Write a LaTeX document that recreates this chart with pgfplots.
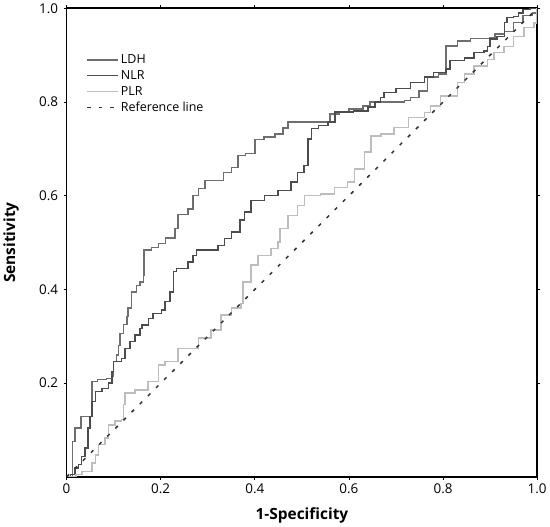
\documentclass[border=0pt]{standalone}
\usepackage{fontspec}
\setmainfont{Open Sans}
\usepackage{pgfplots}
\pgfplotsset{compat=1.18}
\definecolor{ldhc}{HTML}{6E6E6E}
\definecolor{nlrc}{HTML}{4C4C4C}
\definecolor{plrc}{HTML}{BDBDBD}
\definecolor{refc}{HTML}{333333}
\begin{document}
\begin{tikzpicture}
\begin{axis}[
  scale only axis,
  width=472pt, height=470pt,
  xmin=0, xmax=1, ymin=0, ymax=1,
  xtick={0,0.2,0.4,0.6,0.8,1.0},
  ytick={0.2,0.4,0.6,0.8,1.0},
  xticklabels={0,0.2,0.4,0.6,0.8,1.0},
  yticklabels={0.2,0.4,0.6,0.8,1.0},
  tick align=outside,
  major tick length=3pt,
  tick style={black, line width=0.8pt},
  axis line style={black, line width=1.6pt},
  ticklabel style={font=\fontsize{13.5}{15}\selectfont},
  yticklabel style={xshift=-2pt},
  /pgf/number format/assume math mode=true,
  xlabel={\textbf{1-Specificity}},
  ylabel={\textbf{Sensitivity}},
  label style={font=\fontsize{15.5}{17}\selectfont},
  xlabel style={at={(axis description cs:0.5,-0.083)}, anchor=center},
  ylabel style={at={(axis description cs:-0.118,0.5)}, anchor=center, rotate=0},
  legend style={draw=none, fill=none, at={(0.04,0.908)}, anchor=north west,
    font=\fontsize{12.5}{14}\selectfont, row sep=1.5pt, inner sep=1pt},
  legend cell align=left,
  legend image code/.code={\path (0pt,0pt) -- (31pt,0pt); \draw[#1] plot coordinates {(0pt,0pt) (25pt,0pt)};},
  clip=true,
]
\addplot[const plot, ldhc, line width=1.5pt] coordinates {
(0,0)(0.013,0)(0.013,0.076)(0.018,0.104)(0.031,0.129)(0.047,0.129)(0.054,0.204)
(0.066,0.208)(0.085,0.21)(0.095,0.215)(0.1,0.246)(0.106,0.26)(0.11,0.28)(0.114,0.306)
(0.121,0.325)(0.128,0.342)(0.131,0.36)(0.138,0.395)(0.149,0.409)(0.156,0.416)(0.163,0.43)
(0.165,0.484)(0.18,0.49)(0.195,0.498)(0.21,0.51)(0.23,0.53)(0.237,0.56)(0.258,0.572)
(0.269,0.60)(0.28,0.615)(0.294,0.633)(0.328,0.633)(0.333,0.65)(0.35,0.66)(0.364,0.686)
(0.38,0.69)(0.40,0.72)(0.42,0.725)(0.443,0.732)(0.46,0.745)(0.47,0.757)(0.555,0.757)
(0.56,0.774)(0.58,0.779)(0.60,0.785)(0.63,0.792)(0.645,0.80)(0.667,0.80)(0.718,0.803)
(0.731,0.81)(0.749,0.824)(0.767,0.853)(0.79,0.86)(0.806,0.865)(0.806,0.92)(0.831,0.93)
(0.858,0.936)(0.90,0.938)(0.91,0.945)(0.93,0.95)(0.95,0.97)(0.97,0.985)(0.99,0.99)
(1.0,0.995)(1,1)
};
\addlegendentry{LDH}
\addplot[const plot, nlrc, line width=1.5pt] coordinates {
(0,0)(0.008,0)(0.008,0.005)(0.018,0.019)(0.025,0.026)(0.032,0.044)(0.039,0.062)
(0.046,0.104)(0.05,0.129)(0.054,0.161)(0.061,0.182)(0.075,0.189)(0.089,0.2)(0.096,0.225)
(0.1,0.246)(0.117,0.253)(0.124,0.274)(0.135,0.289)(0.145,0.303)(0.156,0.317)(0.16,0.324)
(0.174,0.338)(0.184,0.349)(0.202,0.356)(0.209,0.374)(0.22,0.395)(0.227,0.416)(0.227,0.438)
(0.234,0.445)(0.251,0.445)(0.258,0.459)(0.269,0.473)(0.276,0.484)(0.308,0.484)(0.322,0.494)
(0.336,0.509)(0.35,0.523)(0.368,0.548)(0.378,0.565)(0.392,0.59)(0.421,0.601)(0.449,0.611)
(0.477,0.629)(0.491,0.65)(0.505,0.664)(0.513,0.665)(0.513,0.721)(0.52,0.743)(0.535,0.75)
(0.555,0.757)(0.57,0.779)(0.61,0.781)(0.64,0.789)(0.655,0.80)(0.667,0.81)(0.675,0.82)
(0.70,0.829)(0.731,0.842)(0.76,0.853)(0.78,0.863)(0.806,0.87)(0.815,0.889)(0.845,0.894)
(0.866,0.906)(0.887,0.909)(0.894,0.919)(0.90,0.935)(0.915,0.94)(0.93,0.97)(0.936,0.98)
(0.95,0.983)(0.96,0.99)(0.97,0.997)(0.985,1.0)(1,1)
};
\addlegendentry{NLR}
\addplot[const plot, plrc, line width=1.5pt] coordinates {
(0,0)(0.02,0)(0.02,0.005)(0.033,0.012)(0.054,0.012)(0.054,0.03)(0.061,0.047)(0.068,0.069)
(0.082,0.083)(0.089,0.111)(0.103,0.119)(0.117,0.122)(0.121,0.154)(0.124,0.179)(0.145,0.186)
(0.173,0.204)(0.195,0.239)(0.209,0.246)(0.237,0.274)(0.28,0.296)(0.307,0.313)(0.328,0.345)
(0.35,0.36)(0.371,0.37)(0.375,0.416)(0.392,0.452)(0.407,0.473)(0.434,0.487)(0.449,0.501)
(0.453,0.53)(0.47,0.558)(0.491,0.579)(0.506,0.60)(0.54,0.604)(0.569,0.618)(0.597,0.629)
(0.612,0.657)(0.633,0.693)(0.647,0.728)(0.668,0.732)(0.696,0.746)(0.727,0.767)(0.76,0.778)
(0.773,0.792)(0.795,0.813)(0.831,0.842)(0.845,0.86)(0.866,0.877)(0.894,0.891)(0.908,0.906)
(0.929,0.919)(0.95,0.94)(0.972,0.959)(0.993,0.969)(1.0,0.97)(1,1)
};
\addlegendentry{PLR}
\addplot[refc, line width=1.5pt, dash pattern=on 3.5pt off 8pt] coordinates {(0,0)(1,1)};
\addlegendentry{Reference line}
\end{axis}
\end{tikzpicture}
\end{document}
